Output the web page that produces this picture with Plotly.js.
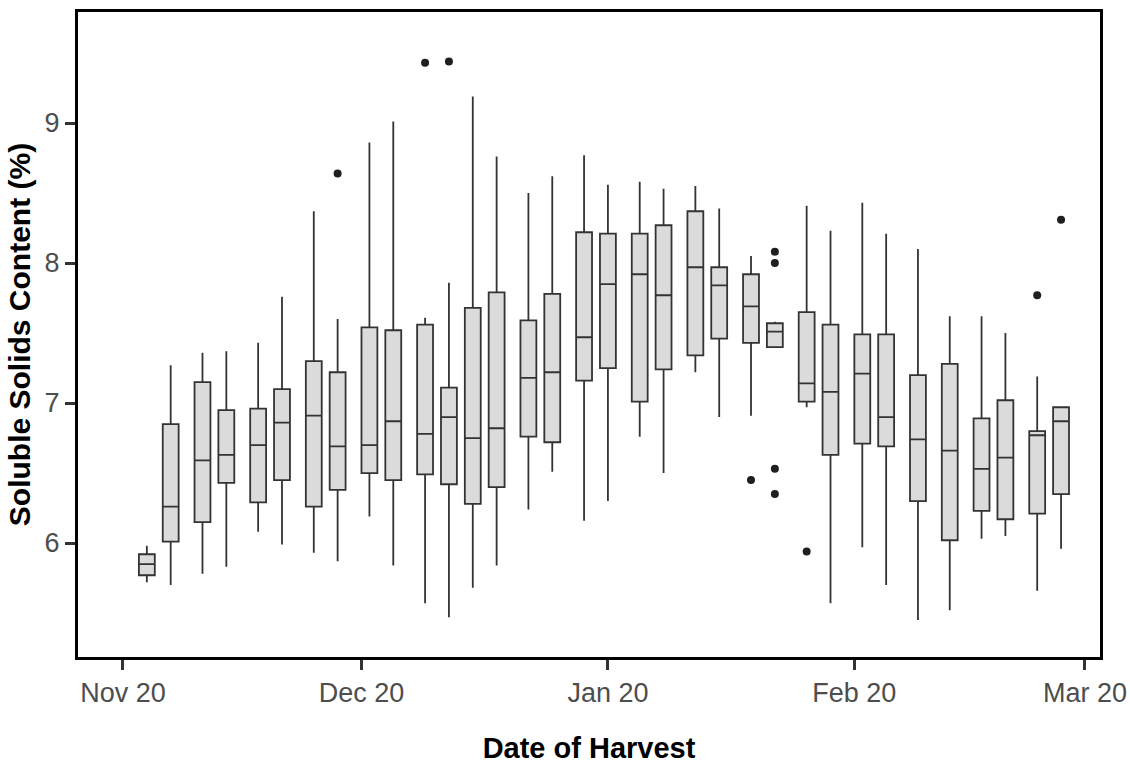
<!DOCTYPE html>
<html>
<head>
<meta charset="utf-8">
<script src="https://cdn.plot.ly/plotly-3.0.1.min.js"></script>
<style>html,body{margin:0;padding:0;background:#fff;}#chart{width:1130px;height:764px;}</style>
</head>
<body>
<div id="chart"></div>
<script>
// Harvest dates (one box per date)
const harvestDates = ['2019-11-23','2019-11-26','2019-11-30','2019-12-03','2019-12-07','2019-12-10','2019-12-14','2019-12-17',
  '2019-12-21','2019-12-24','2019-12-28','2019-12-31','2020-01-03','2020-01-06','2020-01-10','2020-01-13','2020-01-17',
  '2020-01-20','2020-01-24','2020-01-27','2020-01-31','2020-02-03','2020-02-07','2020-02-10','2020-02-14','2020-02-17',
  '2020-02-21','2020-02-24','2020-02-28','2020-03-03','2020-03-07','2020-03-10','2020-03-14','2020-03-17'];
// Box statistics (soluble solids, %)
const lowerWhisker = [5.72,5.70,5.78,5.83,6.08,5.99,5.93,5.87,6.19,5.84,5.57,5.47,5.68,5.84,6.24,6.51,6.16,
  6.30,6.76,6.50,7.22,6.90,6.91,7.40,6.97,5.57,5.97,5.70,5.45,5.52,6.03,6.05,5.66,5.96];
const q1Values = [5.77,6.01,6.15,6.43,6.29,6.45,6.26,6.38,6.50,6.45,6.49,6.42,6.28,6.40,6.76,6.72,7.16,
  7.25,7.01,7.24,7.34,7.46,7.43,7.40,7.01,6.63,6.71,6.69,6.30,6.02,6.23,6.17,6.21,6.35];
const medianValues = [5.85,6.26,6.59,6.63,6.70,6.86,6.91,6.69,6.70,6.87,6.78,6.90,6.75,6.82,7.18,7.22,7.47,
  7.85,7.92,7.77,7.97,7.84,7.69,7.51,7.14,7.08,7.21,6.90,6.74,6.66,6.53,6.61,6.77,6.87];
const q3Values = [5.92,6.85,7.15,6.95,6.96,7.10,7.30,7.22,7.54,7.52,7.56,7.11,7.68,7.79,7.59,7.78,8.22,
  8.21,8.21,8.27,8.37,7.97,7.92,7.57,7.65,7.56,7.49,7.49,7.20,7.28,6.89,7.02,6.80,6.97];
const upperWhisker = [5.98,7.27,7.36,7.37,7.43,7.76,8.37,7.60,8.86,9.01,7.61,7.86,9.19,8.76,8.50,8.62,8.77,
  8.56,8.58,8.53,8.55,8.39,8.05,7.58,8.41,8.23,8.43,8.21,8.10,7.62,7.62,7.50,7.19,6.97];
// Outliers
const outlierDates = ['2019-12-17','2019-12-28','2019-12-31','2020-02-07','2020-02-10','2020-02-10','2020-02-10','2020-02-10','2020-02-14','2020-03-14','2020-03-17'];
const outlierValues = [8.64,9.43,9.44,6.45,8.08,8.00,6.53,6.35,5.94,7.77,8.31];
// Axis ticks
const tickDates = ['2019-11-20','2019-12-20','2020-01-20','2020-02-20','2020-03-20'];
const tickLabels = ['Nov 20','Dec 20','Jan 20','Feb 20','Mar 20'];
const yTickValues = [6,7,8,9];
const yTickLabels = ['6','7','8','9'];

const DAY = 86400000;
const base = Date.UTC(2019,10,20);
function iso(ms){ return new Date(ms).toISOString().replace('T',' ').replace('Z',''); }
const xRange = [iso(base - 5.66*DAY), iso(base + 122.9*DAY)];

const FONT = 'Liberation Sans, Arial, sans-serif';

const boxTrace = {
  type: 'box',
  x: harvestDates,
  q1: q1Values,
  median: medianValues,
  q3: q3Values,
  lowerfence: lowerWhisker,
  upperfence: upperWhisker,
  width: 2*DAY,
  fillcolor: '#dbdbdb',
  line: {color: '#333333', width: 1.8},
  whiskerwidth: 0,
  boxpoints: false,
  hoverinfo: 'skip',
  showlegend: false
};
const outlierTrace = {
  type: 'scatter',
  mode: 'markers',
  x: outlierDates,
  y: outlierValues,
  marker: {color: '#1f1f1f', size: 8},
  hoverinfo: 'skip',
  showlegend: false
};

const layout = {
  width: 1130, height: 764,
  margin: {l: 78, r: 30, t: 12, b: 107, pad: 0},
  paper_bgcolor: '#ffffff', plot_bgcolor: '#ffffff',
  showlegend: false,
  xaxis: {
    type: 'date', range: xRange,
    tickmode: 'array', tickvals: tickDates, ticktext: tickLabels,
    ticks: 'outside', ticklen: 10, tickwidth: 3, tickcolor: '#333333',
    showline: true, mirror: true, linecolor: '#000000', linewidth: 3,
    showgrid: false, zeroline: false,
    tickfont: {family: FONT, size: 27, color: '#4d4d4d'},
    title: {text: 'Date of Harvest', font: {family: FONT, size: 29, color: '#000000', weight: 'bold'}, standoff: 34}
  },
  yaxis: {
    range: [5.186, 9.793],
    tickmode: 'array', tickvals: yTickValues, ticktext: yTickLabels,
    ticks: 'outside', ticklen: 10, tickwidth: 3, tickcolor: '#333333',
    showline: true, mirror: true, linecolor: '#000000', linewidth: 3,
    showgrid: false, zeroline: false,
    tickfont: {family: FONT, size: 27, color: '#4d4d4d'},
    title: {text: 'Soluble Solids Content (%)', font: {family: FONT, size: 30, color: '#000000', weight: 'bold'}, standoff: 6}
  }
};

Plotly.newPlot('chart', [boxTrace, outlierTrace], layout, {displayModeBar: false, staticPlot: true});
</script>
</body>
</html>
